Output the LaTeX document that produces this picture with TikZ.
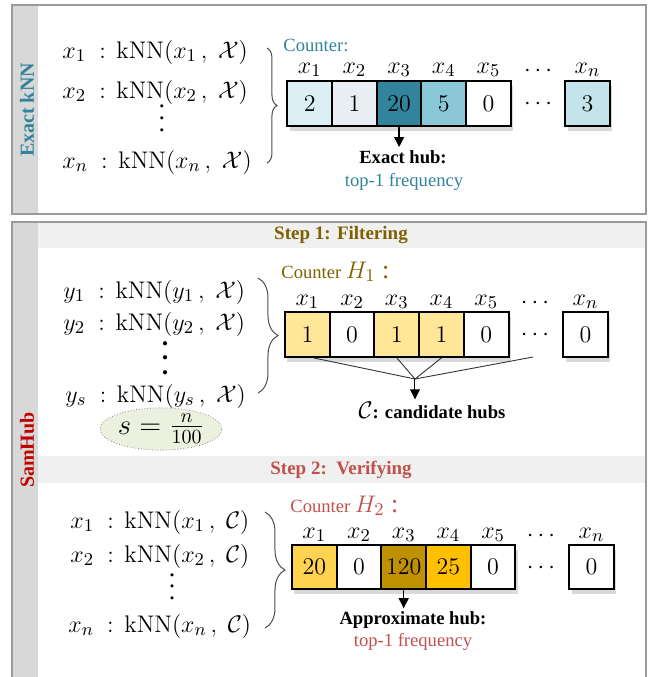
\documentclass[tikz,border=0pt]{standalone}
\usepackage[no-math]{fontspec}
\setmainfont{Liberation Serif}
\usepackage{amsmath}
\usepackage{tikz}
\usetikzlibrary{arrows.meta, calc, shapes.geometric, shadows, decorations.pathreplacing}
\definecolor{framegray}{HTML}{9A9A9A}
\definecolor{bargray}{HTML}{D8D8D8}
\definecolor{bandgray}{HTML}{F0F0F0}
\definecolor{tealdk}{HTML}{31849B}
\definecolor{ekA}{HTML}{DAEEF3}
\definecolor{ekB}{HTML}{E9EEF2}
\definecolor{ekC}{HTML}{31849B}
\definecolor{ekD}{HTML}{8BC8D7}
\definecolor{ekE}{HTML}{C5E3EA}
\definecolor{olivedk}{HTML}{7F6000}
\definecolor{yelA}{HTML}{FFE699}
\definecolor{redS}{HTML}{C0504D}
\definecolor{redD}{HTML}{C00000}
\definecolor{gldA}{HTML}{FFD34F}
\definecolor{gldB}{HTML}{BF9000}
\definecolor{gldC}{HTML}{FFC000}
\definecolor{ellfill}{HTML}{EBF1DE}
\newcommand{\tdots}[2]{\vbox{\baselineskip=#1\lineskiplimit=0pt\hbox{#2}\hbox{#2}\hbox{#2}}}
\newcommand{\mfont}{\fontsize{13}{15}\selectfont}
% one row of the kNN lists
\newcommand{\knnrow}[2]{$#1\;:\,\mathrm{kNN}(#1\,,\;#2)$}

\begin{document}
\begin{tikzpicture}[x=0.5pt, y=-0.5pt, >={Triangle[length=5pt, width=5pt]},
  frame/.style={draw=framegray, line width=0.75pt},
  cell/.style={rectangle, draw=black, line width=1pt, minimum size=22.35pt, inner sep=0pt,
    font=\fontsize{12.5}{14}\selectfont, drop shadow={shadow xshift=1.2pt, shadow yshift=-2.5pt, opacity=0.3}},
  lab/.style={anchor=base, inner sep=0pt, font=\mfont},
  row/.style={anchor=base west, inner sep=0pt, font=\mfont},
  txt/.style={inner sep=0pt, font=\fontsize{9.3}{11}\selectfont},
  btxt/.style={inner sep=0pt, font=\fontsize{9.3}{11}\selectfont\bfseries},
  head/.style={inner sep=0pt, font=\fontsize{9.5}{11}\selectfont\bfseries},
  side/.style={rotate=90, inner sep=0pt, font=\fontsize{10}{12}\selectfont\bfseries},
  brc/.style={decorate, decoration={brace, amplitude=#1}, draw=black!70, line width=0.5pt},
  fan/.style={black!80, line width=0.45pt}]
\useasboundingbox (0,0) rectangle (649,677);
% Exact kNN panel
\fill[bargray] (12,5) rectangle (38,214);
\draw[frame] (12,5) rectangle (646,214);
\node[side, tealdk] (exact) at (27,110) {Exact kNN};
\node[row] (r1) at (62,58)  {\knnrow{x_1}{\mathcal{X}}};
\node[row] (r2) at (62,98)  {\knnrow{x_2}{\mathcal{X}}};
\node[lab] (rd) at (162,131) {\tdots{5.8pt}{.}};
\node[row] (rn) at (62,168) {\knnrow{x_n}{\mathcal{X}}};
\coordinate (bt) at (267,48);
\coordinate (bb) at (267,163);
\draw[brc=5pt] (bt) -- (bb);
\node[txt, anchor=base west, tealdk] (cnt) at (283,51) {Counter:};
\foreach \v/\c [count=\i] in {2/ekA, 1/ekB, 20/ekC, 5/ekD, 0/white} {
  \node[cell, fill=\c] (a\i) at ({309.7+(\i-1)*44.7},103.5) {$\v$};
  \node[lab] (la\i) at ({309.7+(\i-1)*44.7},73) {$x_\i$};
}
\node[cell, fill=ekE] (an) at (587.5,103.5) {$3$};
\node[lab] (lan) at (587.5,73) {$x_n$};
\node[lab] (lad) at (540,76) {$\cdots$};
\node[lab, anchor=center] (ad) at (540,104.5) {$\cdots$};
\node[btxt] (hub) at (403,157) {Exact hub:};
\node[txt, tealdk] (freq1) at (404,182) {top-1 frequency};
\draw[->, line width=0.6pt, shorten >=1.5pt] (a3.south) -- (a3.south |- hub.north);
% SamHub panel
\fill[bargray] (12,222) rectangle (38,677);
\fill[bandgray] (38,222) rectangle (646,248);
\fill[bandgray] (38,456) rectangle (646,483);
\draw[frame] (12,680) |- (646,222) -- (646,680);
\node[side, redD] (samhub) at (27,450) {SamHub};
% step 1: filtering
\node[head, olivedk] (s1) at (341,235) {Step 1: Filtering};
\node[row] (y1) at (63,298) {\knnrow{y_1}{\mathcal{X}}};
\node[row] (y2) at (63,330) {\knnrow{y_2}{\mathcal{X}}};
\node[lab] (yd) at (165,374) {\tdots{7.2pt}{\textbf{.}}};
\node[row] (ys) at (65,402) {\knnrow{y_s}{\mathcal{X}}};
\node[ellipse, draw=black!45, densely dotted, fill=ellfill, minimum width=61pt, minimum height=16pt,
  inner sep=0pt, font=\fontsize{14.4}{17}\selectfont] (sn) at (161,429) {$s=\frac{n}{100}$};
\coordinate (bt1) at (258,278);
\coordinate (bb1) at (258,393);
\draw[brc=10pt] (bt1) -- (bb1);
\node[txt, anchor=base west, olivedk] (cnt1) at (281,278) {Counter {\mfont$H_1$ :}};
\foreach \v/\c [count=\i] in {1/yelA, 0/white, 1/yelA, 1/yelA, 0/white} {
  \node[cell, fill=\c] (h\i) at ({307.4+(\i-1)*44.7},334.5) {$\v$};
  \node[lab] (lh\i) at ({307.4+(\i-1)*44.7},305) {$x_\i$};
}
\node[cell, fill=white] (hn) at (585.5,334.5) {$0$};
\node[lab] (lhn) at (585.5,305) {$x_n$};
\node[lab] (lhd) at (537,308) {$\cdots$};
\node[lab, anchor=center] (hd) at (537,335.5) {$\cdots$};
\coordinate (m1) at (415,379);
\coordinate (hf) at (533,357);
\draw[fan] ($(h1.south)+(6,0)$) -- (m1);
\draw[fan] (h3.south) -- (m1);
\draw[fan] (h4.south) -- (m1);
\draw[fan] (hf) -- (m1);
\node[btxt] (cand) at (432,410) {{\mfont$\mathcal{C}$}: candidate hubs};
\draw[->, line width=0.5pt, shorten >=1pt] (m1) -- (m1 |- cand.north);
% step 2: verifying
\node[head, redS] (s2) at (341,470) {Step 2:\ \ Verifying};
\node[row] (z1) at (70,528) {\knnrow{x_1}{\mathcal{C}}};
\node[row] (z2) at (70,562) {\knnrow{x_2}{\mathcal{C}}};
\node[lab] (zd) at (172,599) {\tdots{5.6pt}{.}};
\node[row] (zn) at (68,632) {\knnrow{x_n}{\mathcal{C}}};
\coordinate (bt2) at (265,512);
\coordinate (bb2) at (265,628);
\draw[brc=10pt] (bt2) -- (bb2);
\node[txt, anchor=base west, redS] (cnt2) at (290,512) {Counter {\mfont$H_2$ :}};
\foreach \v/\c [count=\i] in {20/gldA, 0/white, 120/gldB, 25/gldC, 0/white} {
  \node[cell, fill=\c] (v\i) at ({314.3+(\i-1)*44.7},567) {$\v$};
  \node[lab] (lv\i) at ({314.3+(\i-1)*44.7},538) {$x_\i$};
}
\node[cell, fill=white] (vn) at (591.5,567) {$0$};
\node[lab] (lvn) at (591.5,538) {$x_n$};
\node[lab] (lvd) at (543,541) {$\cdots$};
\node[lab, anchor=center] (vd) at (543,568) {$\cdots$};
\node[btxt] (approx) at (413,620) {Approximate hub:};
\node[txt, redS] (freq2) at (413,642) {top-1 frequency};
\draw[->, line width=0.6pt, shorten >=1.5pt] (v3.south) -- (v3.south |- approx.north);
\end{tikzpicture}
\end{document}
